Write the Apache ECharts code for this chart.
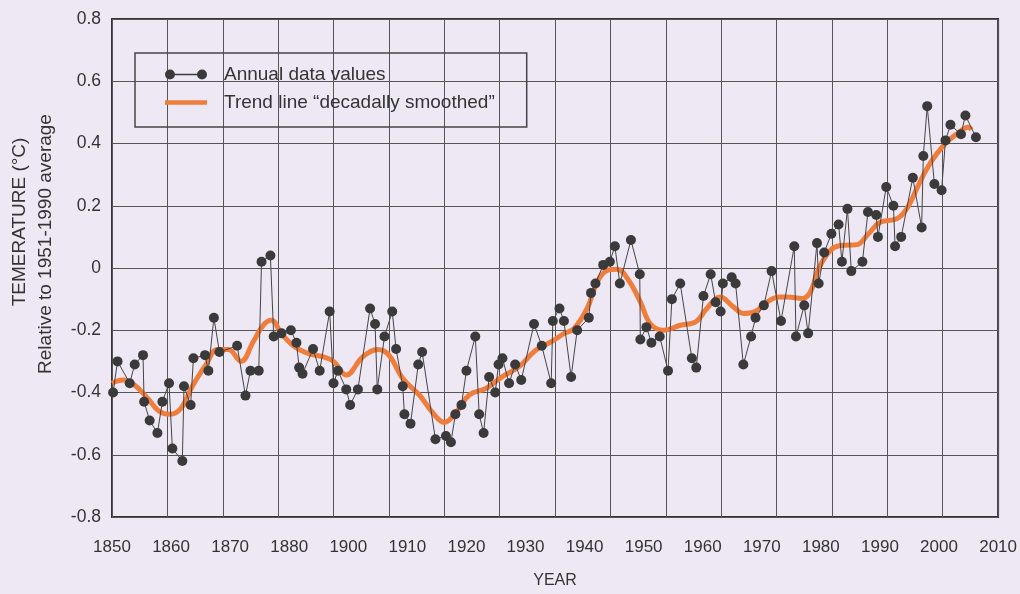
<!DOCTYPE html>
<html style="height: 100%">
<head>
  <meta charset="UTF-8">
  <title>Global temperature 1850-2006</title>
  <script src="https://cdnjs.cloudflare.com/ajax/libs/echarts/6.0.0/echarts.min.js"></script>
  <style>
    body {
      margin: 0;
      height: 100%;
      background: #eee8f5;
      font-family: "Liberation Sans", Arial, sans-serif;
    }
    #main {
      width: 1020px;
      height: 594px;
    }
  </style>
</head>
<body>
  <div id="main"></div>

  <script>
    // tick labels as printed under the chart (1890 is missing in the original)
    const tickLabels = ['1850', '1860', '1870', '1880', '1900', '1910', '1920', '1930',
      '1940', '1950', '1960', '1970', '1980', '1990', '2000', '2010'];

    // annual values (year position, anomaly °C)
    const annualYears = [
      1850.2, 1851.0, 1853.2, 1854.1, 1855.6, 1855.8, 1856.8, 1858.2, 1859.1, 1860.3,
      1860.9, 1862.7, 1863.0, 1864.2, 1864.7, 1866.8, 1867.4, 1868.4, 1869.4, 1872.6,
      1874.1, 1875.0, 1876.5, 1877.0, 1878.6, 1879.2, 1880.6, 1882.3, 1883.3, 1883.8,
      1884.4, 1886.3, 1887.5, 1889.3, 1890.0, 1890.8, 1892.3, 1893.0, 1894.4, 1896.6,
      1897.5, 1897.9, 1899.2, 1900.6, 1901.3, 1902.5, 1902.8, 1903.9, 1905.3, 1906.0,
      1908.4, 1910.3, 1911.2, 1912.0, 1913.1, 1914.0, 1915.6, 1916.3, 1917.1, 1918.1,
      1919.2, 1919.8, 1920.5, 1921.7, 1922.8, 1923.9, 1926.2, 1927.6, 1929.3, 1929.6,
      1930.8, 1931.6, 1932.9, 1934.0, 1936.1, 1936.5, 1937.3, 1938.7, 1939.9, 1940.8,
      1941.7, 1943.7, 1945.3, 1945.4, 1946.5, 1947.4, 1948.9, 1950.4, 1951.1, 1952.6,
      1954.7, 1955.5, 1956.8, 1958.1, 1959.0, 1959.9, 1960.3, 1961.9, 1962.6, 1964.0,
      1965.4, 1966.2, 1967.7, 1969.1, 1970.8, 1973.2, 1973.5, 1975.0, 1975.7, 1977.3,
      1977.6, 1978.6, 1979.9, 1981.2, 1981.8, 1982.8, 1983.5, 1985.5, 1986.5, 1988.0,
      1988.3, 1989.8, 1991.1, 1991.4, 1992.5, 1994.6, 1996.2, 1996.5, 1997.2, 1998.5,
      1999.8, 2000.5, 2001.4, 2003.3, 2004.1, 2006.0
    ];
    const annualValues = [
      -0.40, -0.30, -0.37, -0.31, -0.28, -0.43, -0.49, -0.53, -0.43, -0.37,
      -0.58, -0.62, -0.38, -0.44, -0.29, -0.28, -0.33, -0.16, -0.27, -0.25,
      -0.41, -0.33, -0.33, 0.02, 0.04, -0.22, -0.21, -0.20, -0.24, -0.32,
      -0.34, -0.26, -0.33, -0.14, -0.37, -0.33, -0.39, -0.44, -0.39, -0.13,
      -0.18, -0.39, -0.22, -0.14, -0.26, -0.38, -0.47, -0.50, -0.31, -0.27,
      -0.55, -0.54, -0.56, -0.47, -0.44, -0.33, -0.22, -0.47, -0.53, -0.35,
      -0.40, -0.31, -0.29, -0.37, -0.31, -0.36, -0.18, -0.25, -0.37, -0.17,
      -0.13, -0.17, -0.35, -0.20, -0.16, -0.08, -0.05, 0.01, 0.02, 0.07,
      -0.05, 0.09, -0.02, -0.23, -0.19, -0.24, -0.22, -0.33, -0.10, -0.05,
      -0.29, -0.32, -0.09, -0.02, -0.11, -0.14, -0.05, -0.03, -0.05, -0.31,
      -0.22, -0.16, -0.12, -0.01, -0.17, 0.07, -0.22, -0.12, -0.21, 0.08,
      -0.05, 0.05, 0.11, 0.14, 0.02, 0.19, -0.01, 0.02, 0.18, 0.17,
      0.10, 0.26, 0.20, 0.07, 0.10, 0.29, 0.13, 0.36, 0.52, 0.27,
      0.25, 0.41, 0.46, 0.43, 0.49, 0.42
    ];

    // decadally smoothed trend
    const trendYears = [
      1850, 1852, 1854, 1856.5, 1858.5, 1860.5, 1862.5, 1864.5, 1867, 1869,
      1871, 1873.3, 1875.5, 1877.3, 1878.8, 1880.6, 1883, 1885.5, 1888, 1890,
      1892.3, 1895.3, 1898, 1900, 1902.5, 1905.5, 1908, 1910, 1912, 1914.5,
      1917.5, 1920.5, 1923.5, 1926.5, 1929.5, 1931.6, 1933.4, 1935.8, 1937.6, 1939.4,
      1941.2, 1943.3, 1945.4, 1947.2, 1949.6, 1952.6, 1955.4, 1957.4, 1959.8, 1962.2,
      1964, 1966, 1968.3, 1970.5, 1972, 1974.6, 1976.1, 1977.6, 1979.7, 1981.5,
      1984.5, 1986.6, 1988.7, 1991.7, 1993.5, 1995.3, 1997.1, 1998.9, 2000.7, 2002.5,
      2004.6, 2005.2
    ];
    const trendValues = [
      -0.37, -0.36, -0.375, -0.42, -0.46, -0.47, -0.45, -0.38, -0.31, -0.262,
      -0.262, -0.30, -0.237, -0.184, -0.168, -0.211, -0.253, -0.275, -0.285, -0.30,
      -0.344, -0.285, -0.262, -0.28, -0.355, -0.408, -0.467, -0.496, -0.467, -0.408,
      -0.387, -0.349, -0.317, -0.264, -0.235, -0.211, -0.195, -0.13, -0.045, -0.008,
      -0.004, -0.04, -0.109, -0.179, -0.20, -0.184, -0.173, -0.13, -0.093, -0.125,
      -0.146, -0.141, -0.109, -0.093, -0.093, -0.098, -0.077, -0.002, 0.056, 0.072,
      0.075, 0.11, 0.147, 0.158, 0.19, 0.254, 0.318, 0.366, 0.404, 0.43,
      0.452, 0.444
    ];

    const annualData = annualYears.map((y, i) => [y, annualValues[i]]);
    const trendData = trendYears.map((y, i) => [y, trendValues[i]]);

    const textColor = '#333';
    const gridColor = '#555';
    const fontStack = '"Liberation Sans", Arial, sans-serif';
    const trendName = 'Trend line \u201cdecadally smoothed\u201d';
    // legend icons: dot-line-dot for the annual series, plain bar for the trend
    const dotsIcon = 'path://M5,0A5,5 0 1,1 5,10A5,5 0 1,1 5,0ZM37,0A5,5 0 1,1 37,10A5,5 0 1,1 37,0ZM9,4.3L33,4.3L33,5.7L9,5.7Z';
    const barIcon = 'path://M0,0L42,0L42,4.5L0,4.5Z';

    const myChart = echarts.init(document.getElementById('main'));

    const option = {
      backgroundColor: '#eee8f5',
      animation: false,
      textStyle: { fontFamily: fontStack },
      grid: {
        left: 112, right: 20, top: 19, bottom: 75,
        show: true,
        borderColor: '#333',
        borderWidth: 2
      },
      legend: {
        orient: 'vertical',
        left: 135,
        top: 53,
        itemWidth: 42,
        itemHeight: 10,
        itemGap: 9,
        padding: [12, 32, 15, 30],
        borderColor: '#444',
        borderWidth: 1.5,
        textStyle: { fontSize: 19, color: textColor, padding: [0, 0, 0, 12] },
        data: [
          { name: 'Annual data values', icon: dotsIcon },
          { name: trendName, icon: barIcon }
        ]
      },
      xAxis: [
        {
          type: 'value',
          min: 1850,
          max: 2010,
          interval: 10,
          axisLine: { show: false },
          axisTick: { show: false },
          axisLabel: { show: false },
          splitLine: { lineStyle: { color: gridColor, width: 1 } }
        },
        {
          type: 'category',
          data: tickLabels,
          boundaryGap: false,
          position: 'bottom',
          axisLine: { show: false },
          axisTick: { show: false },
          splitLine: { show: false },
          axisLabel: { interval: 0, margin: 22, fontSize: 17, color: textColor },
          name: 'YEAR',
          nameLocation: 'middle',
          nameGap: 56,
          nameTextStyle: { fontSize: 16, color: textColor }
        }
      ],
      yAxis: {
        type: 'value',
        min: -0.8,
        max: 0.8,
        interval: 0.2,
        axisLine: { show: false },
        axisTick: { show: false },
        axisLabel: {
          margin: 11,
          fontSize: 17.5,
          color: textColor,
          formatter: v => (Math.abs(v) < 1e-9 ? '0' : v.toFixed(1))
        },
        splitLine: { lineStyle: { color: gridColor, width: 1 } }
      },
      graphic: [
        {
          type: 'text',
          x: 10, y: 222,
          rotation: Math.PI / 2,
          style: {
            text: 'TEMERATURE (\u00b0C)',
            fill: textColor,
            align: 'center',
            verticalAlign: 'top',
            font: '19px ' + fontStack
          }
        },
        {
          type: 'text',
          x: 36, y: 244,
          rotation: Math.PI / 2,
          style: {
            text: 'Relative to 1951-1990 average',
            fill: textColor,
            align: 'center',
            verticalAlign: 'top',
            font: '19px ' + fontStack
          }
        }
      ],
      series: [
        {
          name: trendName,
          type: 'line',
          xAxisIndex: 0,
          data: trendData,
          smooth: 0.4,
          symbol: 'none',
          lineStyle: { width: 5, color: '#ef7d3c' },
          itemStyle: { color: '#ef7d3c' },
          z: 2
        },
        {
          name: 'Annual data values',
          type: 'line',
          xAxisIndex: 0,
          data: annualData,
          symbol: 'circle',
          symbolSize: 10,
          showAllSymbol: true,
          lineStyle: { width: 1, color: '#444' },
          itemStyle: { color: '#3a3a3a' },
          z: 3
        }
      ]
    };

    myChart.setOption(option);
  </script>
</body>
</html>
